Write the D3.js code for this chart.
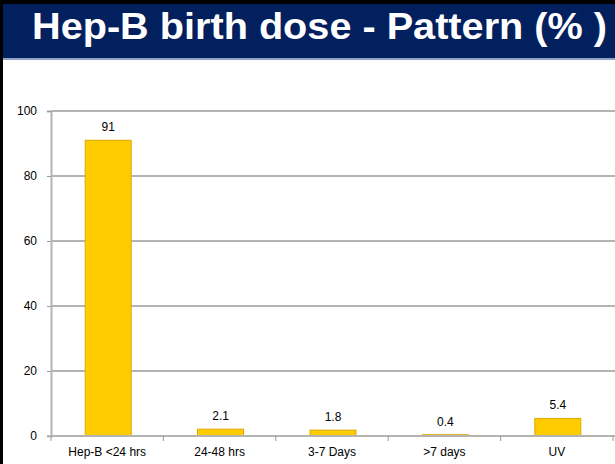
<!DOCTYPE html>
<html><head><meta charset="utf-8">
<script src="https://cdn.jsdelivr.net/npm/d3@7/dist/d3.min.js"></script>
<style>html,body{margin:0;padding:0;background:#fff;overflow:hidden}svg{display:block}</style>
</head><body><svg id="c" width="615" height="464"></svg>
<script>
const title = "Hep-B birth dose - Pattern (% )";
const categories = ["Hep-B <24 hrs", "24-48 hrs", "3-7  Days", ">7 days", "UV"];
const values = [91, 2.1, 1.8, 0.4, 5.4];
const valueLabels = ["91", "2.1", "1.8", "0.4", "5.4"];
const yTicks = [0, 20, 40, 60, 80, 100];

const svg = d3.select("#c");
const W = 615, H = 464;
svg.append("rect").attr("width", W).attr("height", H).attr("fill", "#fff");

// frame and title band
svg.append("rect").attr("x", 0).attr("y", 0).attr("width", W).attr("height", 4).attr("fill", "#000");
svg.append("rect").attr("x", 0).attr("y", 4).attr("width", W).attr("height", 54).attr("fill", "#03205e");
svg.append("rect").attr("x", 0).attr("y", 58).attr("width", W).attr("height", 2).attr("fill", "#8fa3c8");
svg.append("rect").attr("x", 0).attr("y", 0).attr("width", 3).attr("height", H).attr("fill", "#000");

svg.append("text").attr("x", 32).attr("y", 39)
  .attr("font-family", "Liberation Sans, Arial, sans-serif")
  .attr("font-weight", "bold").attr("font-size", 36).attr("fill", "#fff")
  .attr("textLength", 575).attr("lengthAdjust", "spacingAndGlyphs")
  .text(title);

const x = d3.scaleBand().domain(categories).range([51, 613]).paddingInner(0).paddingOuter(0);
const y = d3.scaleLinear().domain([0, 100]).range([436, 111]);
const font = "Liberation Sans, Arial, sans-serif";

// gridlines
svg.append("g").selectAll("line").data(yTicks.filter(d => d > 0)).join("line")
  .attr("x1", 51).attr("x2", W).attr("y1", d => y(d)).attr("y2", d => y(d))
  .attr("stroke", "#b4b4b4").attr("stroke-width", 2);

// y axis
const ya = svg.append("g").attr("transform", "translate(51,0)")
  .call(d3.axisLeft(y).tickValues(yTicks).tickSize(4).tickPadding(10).tickFormat(d3.format("d")));
ya.select(".domain").attr("stroke", "#b4b4b4").attr("stroke-width", 2);
ya.selectAll(".tick line").attr("stroke", "#999");
ya.selectAll("text").attr("font-family", font).attr("font-size", 12).attr("fill", "#000");

// bars
const bw = 46;
svg.append("g").selectAll("rect").data(values).join("rect")
  .attr("x", (d, i) => x(categories[i]) + x.bandwidth() / 2 - bw / 2 + 1)
  .attr("width", bw)
  .attr("y", d => y(d))
  .attr("height", d => y(0) - y(d))
  .attr("fill", "#ffcc00")
  .attr("stroke", "#e0a800").attr("stroke-width", 1);

// value labels
svg.append("g").selectAll("text").data(values).join("text")
  .attr("x", (d, i) => x(categories[i]) + x.bandwidth() / 2 + 1)
  .attr("y", d => y(d) - 9)
  .attr("text-anchor", "middle").attr("font-family", font).attr("font-size", 12).attr("fill", "#000")
  .text((d, i) => valueLabels[i]);

// x axis
const xa = svg.append("g").attr("transform", "translate(0,436)")
  .call(d3.axisBottom(x).tickSize(0).tickPadding(11));
xa.select(".domain").remove();
svg.append("line").attr("x1", 47).attr("x2", W).attr("y1", 436).attr("y2", 436)
  .attr("stroke", "#b4b4b4").attr("stroke-width", 2);
svg.append("g").selectAll("line").data(d3.range(categories.length + 1)).join("line")
  .attr("x1", i => 51 + i * x.bandwidth()).attr("x2", i => 51 + i * x.bandwidth())
  .attr("y1", 436).attr("y2", 441).attr("stroke", "#999");
xa.selectAll("text").attr("font-family", font).attr("font-size", 12).attr("fill", "#000");
</script></body></html>
